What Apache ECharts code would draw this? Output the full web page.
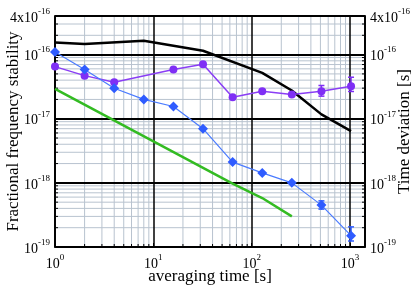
<!DOCTYPE html>
<html><head><meta charset="utf-8">
<script src="https://cdn.jsdelivr.net/npm/echarts@6/dist/echarts.min.js"></script>
<style>html,body{margin:0;padding:0;background:#fff}#c{width:415px;height:287px}</style>
</head><body><div id="c"></div>
<script>
// averaging times [s]
const tauPurple = [1, 2, 4, 16, 32, 64, 128, 256, 512, 1024];
const purpleVals = [6.5e-17, 4.7e-17, 3.7e-17, 5.85e-17, 7.1e-17, 2.17e-17, 2.69e-17, 2.39e-17, 2.69e-17, 3.2e-17];
const tauBlue = [1, 2, 4, 8, 16, 32, 64, 128, 256, 512, 1024];
const blueVals = [1.1e-16, 5.85e-17, 2.99e-17, 2.0e-17, 1.55e-17, 7.0e-18, 2.11e-18, 1.43e-18, 1.0e-18, 4.5e-19, 1.5e-19];
const tauBlack = [1, 2, 8, 32, 128, 256, 512, 1024];
const blackVals = [1.54e-16, 1.47e-16, 1.65e-16, 1.15e-16, 5.2e-17, 2.76e-17, 1.17e-17, 6.4e-18];
const tauGreen = [1, 64, 128, 256];
const greenVals = [2.93e-17, 9.75e-19, 5.8e-19, 3.0e-19];
// error bars [tau, low, high]
const purpleErr = [[512, 2.25e-17, 3.3e-17], [1024, 2.66e-17, 4.44e-17]];
const blueErr = [[512, 3.9e-19, 5.24e-19], [1024, 1.24e-19, 2.06e-19]];
// axis ranges and ticks
const xMin = 1, xMax = 1420;
const yMin = 1e-19, yMax = 4e-16;
const xMinor = [2,3,4,5,6,7,8,9,20,30,40,50,60,70,80,90,200,300,400,500,600,700,800,900];
const yMinor = [2e-19,3e-19,4e-19,5e-19,6e-19,7e-19,8e-19,9e-19,2e-18,3e-18,4e-18,5e-18,6e-18,7e-18,8e-18,9e-18,2e-17,3e-17,4e-17,5e-17,6e-17,7e-17,8e-17,9e-17,2e-16,3e-16];

const FONT = '"Liberation Serif", "DejaVu Serif", serif';
function pw(v) {
  const e = Math.log10(v);
  const r = Math.round(e);
  if (Math.abs(e - r) < 1e-6) return '{b|10}{s|' + r + '}';
  if (Math.abs(v - 4e-16) / 4e-16 < 0.01) return '{b|4x10}{s|-16}';
  return '';
}
const rich = {
  b: {fontFamily: FONT, fontSize: 14, color: '#000', lineHeight: 18, verticalAlign: 'bottom'},
  s: {fontFamily: FONT, fontSize: 9, color: '#000', lineHeight: 11, verticalAlign: 'top'}
};
const chart = echarts.init(document.getElementById('c'), null, {renderer: 'canvas'});
const yAxisBase = {
  type: 'log', logBase: 10, min: yMin, max: yMax, interval: 1,
  axisLine: {show: true, lineStyle: {color: '#000', width: 1.5}},
  axisTick: {show: true, inside: true, length: 4, lineStyle: {color: '#000'}},
  axisLabel: {formatter: pw, rich: rich, margin: 5, showMaxLabel: true, showMinLabel: true},
  nameLocation: 'middle', nameRotate: 90, nameMoveOverlap: false,
  nameTextStyle: {fontFamily: FONT, fontSize: 17, color: '#000'},
  z: 1
};
chart.setOption({
  animation: false,
  backgroundColor: '#fff',
  grid: {left: 55, right: 50, top: 16, bottom: 40, show: true, borderColor: '#000', borderWidth: 1.5,
    containLabel: false, outerBoundsMode: 'none'},
  xAxis: {
    type: 'log', logBase: 10, min: xMin, max: xMax, interval: 1,
    axisLine: {show: true, lineStyle: {color: '#000', width: 1.5}},
    axisTick: {show: true, inside: true, length: 4, lineStyle: {color: '#000'}},
    axisLabel: {formatter: pw, rich: rich, margin: 6, showMaxLabel: true},
    splitLine: {show: true, lineStyle: {color: '#000', width: 1.5}},
    name: 'averaging time [s]', nameLocation: 'middle', nameGap: 21, nameMoveOverlap: false,
    nameTextStyle: {fontFamily: FONT, fontSize: 17, color: '#000'},
    z: 1
  },
  yAxis: [
    Object.assign({}, yAxisBase, {position: 'left', name: 'Fractional frequency stability', nameGap: 33,
      splitLine: {show: true, lineStyle: {color: '#000', width: 2}}}),
    Object.assign({}, yAxisBase, {position: 'right', name: 'Time deviation [s]', nameGap: 31,
      splitLine: {show: false}})
  ],
  series: [
    {
      type: 'custom', z: 0.5, silent: true,
      data: xMinor.map(v => [v, 1e-18]),
      renderItem: function (params, api) {
        const cs = params.coordSys;
        const px = api.coord([api.value(0), 1e-18])[0];
        return {type: 'group', children: [
          {type: 'line', shape: {x1: px, y1: cs.y, x2: px, y2: cs.y + cs.height}, style: {stroke: '#b8c3cf', lineWidth: 1}},
          {type: 'line', shape: {x1: px, y1: cs.y + cs.height, x2: px, y2: cs.y + cs.height - 3}, style: {stroke: '#000', lineWidth: 1}}
        ]};
      }
    },
    {
      type: 'custom', z: 0.5, silent: true,
      data: yMinor.map(v => [10, v]),
      renderItem: function (params, api) {
        const cs = params.coordSys;
        const py = api.coord([10, api.value(1)])[1];
        return {type: 'group', children: [
          {type: 'line', shape: {x1: cs.x, y1: py, x2: cs.x + cs.width, y2: py}, style: {stroke: '#b8c3cf', lineWidth: 1}},
          {type: 'line', shape: {x1: cs.x, y1: py, x2: cs.x + 3, y2: py}, style: {stroke: '#000', lineWidth: 1}},
          {type: 'line', shape: {x1: cs.x + cs.width, y1: py, x2: cs.x + cs.width - 3, y2: py}, style: {stroke: '#000', lineWidth: 1}}
        ]};
      }
    },
    {
      type: 'line', z: 3, data: tauBlack.map((t, i) => [t, blackVals[i]]),
      showSymbol: false, symbol: 'none', lineStyle: {color: '#000', width: 2.5}
    },
    {
      type: 'line', z: 3, data: tauGreen.map((t, i) => [t, greenVals[i]]),
      showSymbol: false, symbol: 'none', lineStyle: {color: '#33bb22', width: 2.5}
    },
    {
      type: 'line', z: 4, data: tauPurple.map((t, i) => [t, purpleVals[i]]),
      symbol: 'circle', symbolSize: 8, itemStyle: {color: '#7f2ff5'}, lineStyle: {color: '#8a3ef5', width: 1.5}
    },
    {
      type: 'line', z: 4, data: tauBlue.map((t, i) => [t, blueVals[i]]),
      symbol: 'diamond', symbolSize: 10, itemStyle: {color: '#2f5cff'}, lineStyle: {color: '#4a7bff', width: 1.2}
    },
    {
      type: 'custom', z: 5, data: purpleErr.concat(blueErr).map((d, i) => d.concat([i < purpleErr.length ? 0 : 1])),
      encode: {x: 0, y: [1, 2]},
      renderItem: function (params, api) {
        const lo = api.coord([api.value(0), api.value(1)]);
        const hi = api.coord([api.value(0), api.value(2)]);
        const c = api.value(3) === 0 ? '#7f2ff5' : '#2f5cff';
        const st = {stroke: c, lineWidth: 1.5};
        return {type: 'group', children: [
          {type: 'line', shape: {x1: lo[0], y1: lo[1], x2: hi[0], y2: hi[1]}, style: st},
          {type: 'line', shape: {x1: lo[0] - 3, y1: lo[1], x2: lo[0] + 3, y2: lo[1]}, style: st},
          {type: 'line', shape: {x1: hi[0] - 3, y1: hi[1], x2: hi[0] + 3, y2: hi[1]}, style: st}
        ]};
      }
    }
  ]
});
</script></body></html>
